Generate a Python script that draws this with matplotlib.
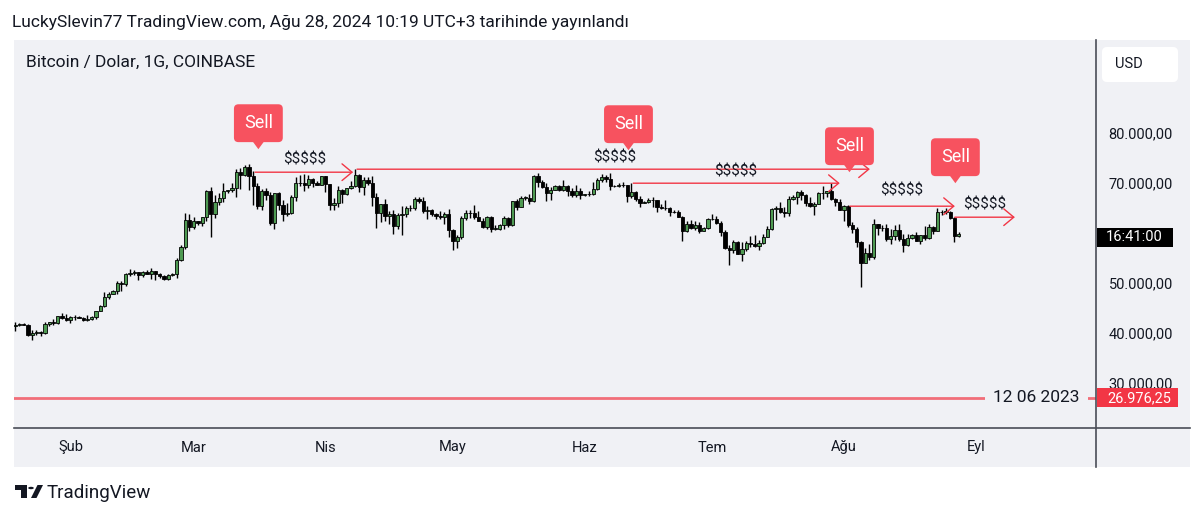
import matplotlib
matplotlib.use('Agg')

import numpy as np
import pandas as pd
import matplotlib.pyplot as plt
import matplotlib.dates as mdates
from matplotlib.patches import Rectangle, Polygon, FancyBboxPatch, Circle
from matplotlib.lines import Line2D

plt.rcParams['font.family'] = ['Roboto', 'DejaVu Sans']

BG = '#f0f1f5'
RED = '#f23645'
LABEL_RED = '#f7525f'
GREEN = '#4e9a52'
INK = '#131722'
SEP = '#4a4d57'

# daily BTC/USD candles, values in thousands of USD
dates = pd.date_range('2024-01-19', '2024-08-28', freq='D')

opens = [
    41.3, 41.6, 41.7, 41.6, 39.5, 39.9, 40.1, 40.0, 41.8, 42.1, 42.0, 43.3, 42.9,
    42.6, 43.1, 43.2, 43.0, 42.6, 42.7, 43.1, 44.3, 45.3, 47.1, 47.8, 48.3, 50.0, 49.7,
    51.8, 52.0, 52.1, 51.6, 52.1, 51.8, 52.3, 51.8, 51.3, 50.7, 51.6, 51.7, 54.5, 57.1, 62.5,
    61.2, 62.4, 62.0, 63.1, 68.3, 63.8, 66.1, 66.9, 68.3, 68.5, 69.0, 72.1, 71.5, 73.1, 71.4,
    69.4, 65.3, 68.4, 67.6, 62.0, 67.9, 65.5, 63.8, 64.0, 67.2, 70.0, 69.9, 69.5, 70.8, 69.9, 69.6,
    71.3, 69.7, 65.5, 65.9, 68.5, 67.8, 68.9, 69.4, 71.6, 69.1, 70.6, 70.0, 67.1, 63.9, 65.7,
    63.4, 63.8, 61.3, 63.5, 63.8, 64.9, 64.9, 66.8, 66.4, 64.3, 64.5, 63.8, 63.4, 63.1, 63.8,
    60.6, 58.3, 59.1, 62.9, 63.9, 64.0, 63.2, 62.3, 61.2, 63.1, 60.8, 60.8, 61.5, 62.9, 61.5,
    66.3, 65.2, 67.0, 67.0, 66.3, 71.4, 70.1, 69.1, 67.9, 68.5, 69.3, 68.5, 69.4, 68.3, 67.6, 68.3,
    67.5, 67.7, 67.7, 68.8, 70.5, 71.1, 70.8, 69.3, 69.3, 69.6, 69.5, 67.3, 68.2, 66.8, 66.0,
    66.2, 66.6, 66.5, 65.2, 65.0, 64.9, 64.1, 64.2, 63.2, 60.3, 61.8, 60.9, 61.6, 60.3, 60.9,
    62.7, 62.8, 62.0, 60.2, 57.0, 56.6, 58.2, 55.8, 56.7, 58.0, 57.7, 57.3, 57.9, 59.2, 60.8,
    64.7, 65.0, 64.1, 63.9, 66.7, 67.1, 68.2, 67.6, 65.9, 65.4, 65.8, 67.9, 68.0, 68.3, 66.8, 66.2,
    64.6, 65.3, 61.5, 60.7, 58.1, 54.0, 56.0, 55.1, 61.7, 60.9, 60.9, 58.7, 59.3, 60.6,
    58.7, 57.6, 58.9, 59.5, 58.4, 59.5, 59.0, 61.2, 60.4, 64.1, 64.2, 64.2, 62.9, 59.4,
]
highs = [
    42.2, 41.9, 41.9, 41.7, 40.5, 40.6, 40.3, 42.2, 42.2, 42.8, 43.3, 43.9, 43.7,
    43.3, 43.5, 43.4, 43.1, 43.5, 43.4, 44.4, 45.6, 48.2, 48.2, 48.6, 50.3, 50.4, 52.0,
    52.8, 52.6, 52.2, 52.4, 52.5, 52.9, 52.4, 52.0, 51.5, 51.7, 51.9, 54.9, 57.5, 64.0, 63.7,
    63.1, 62.4, 63.2, 68.5, 69.2, 67.6, 67.9, 70.0, 68.6, 70.0, 72.8, 73.0, 73.6, 73.8,
    72.4, 70.0, 68.8, 68.9, 68.1, 68.0, 68.2, 66.6, 65.9, 67.5, 71.1, 71.5, 71.7, 71.5, 70.9, 70.3, 71.4,
    71.3, 69.7, 66.9, 69.3, 68.7, 69.0, 70.3, 72.7, 71.7, 71.1, 71.2, 71.3, 67.9, 65.8,
    66.8, 64.3, 64.5, 64.0, 65.4, 65.4, 65.6, 67.2, 67.2, 67.1, 65.3, 64.8, 63.9, 64.3, 64.2, 64.7,
    60.8, 59.6, 63.3, 64.5, 64.6, 65.5, 64.4, 62.9, 63.4, 63.4, 61.5, 61.8, 63.4, 63.1,
    66.4, 66.7, 67.4, 67.4, 67.7, 71.5, 71.9, 70.6, 70.0, 69.2, 69.5, 69.5, 70.6, 69.6, 68.9, 69.5, 69.0,
    67.8, 68.4, 70.2, 71.0, 71.7, 71.6, 71.9, 69.6, 69.9, 70.2, 69.6, 70.0, 68.4, 67.3,
    66.4, 66.9, 67.2, 66.5, 65.7, 66.5, 65.1, 64.5, 64.5, 63.4, 62.4, 62.5, 62.3, 62.2, 61.2, 63.0,
    63.8, 63.3, 62.3, 60.5, 57.5, 58.5, 58.3, 58.2, 58.3, 59.4, 59.5, 58.5, 59.8, 61.3,
    64.9, 65.3, 66.1, 65.1, 67.4, 67.6, 68.4, 68.5, 67.8, 67.1, 66.1, 68.2, 69.4, 68.3, 70.0, 67.0, 66.8,
    65.6, 65.6, 62.2, 61.1, 58.3, 57.0, 57.7, 62.7, 61.8, 61.5, 61.8, 60.7, 61.6, 61.8,
    59.8, 59.8, 59.7, 60.2, 59.6, 61.4, 61.8, 61.4, 64.9, 64.5, 65.0, 64.4, 63.2, 60.2,
]
lows = [
    40.3, 41.4, 41.5, 39.4, 38.5, 39.5, 39.3, 39.8, 41.4, 41.6, 41.8, 42.7, 42.3,
    41.9, 42.6, 42.9, 42.3, 42.3, 42.6, 42.8, 44.3, 45.2, 46.8, 47.7, 47.7, 48.3, 49.3,
    51.3, 51.6, 50.6, 51.2, 51.7, 50.8, 50.6, 50.9, 50.5, 50.6, 51.3, 50.9, 54.4, 56.7, 60.4,
    60.8, 61.6, 61.3, 62.3, 59.2, 62.9, 65.6, 66.2, 67.9, 68.2, 67.2, 68.7, 71.4, 68.6,
    65.6, 64.8, 64.6, 66.6, 61.6, 60.8, 64.5, 62.3, 63.3, 63.8, 66.4, 69.4, 68.4, 68.9, 69.1, 69.5, 69.6,
    68.1, 64.5, 64.5, 65.1, 66.0, 67.5, 68.8, 69.1, 68.2, 67.5, 69.6, 65.3, 61.0, 62.2,
    62.3, 61.7, 59.8, 60.8, 59.6, 63.2, 64.3, 64.5, 65.9, 63.9, 62.8, 63.4, 62.8, 62.8, 61.8, 59.2,
    56.6, 56.9, 58.8, 62.6, 62.9, 62.8, 62.3, 60.9, 60.7, 60.2, 60.5, 60.6, 60.8, 61.2,
    61.3, 64.6, 65.1, 66.6, 65.8, 66.1, 69.2, 68.9, 66.3, 66.6, 68.5, 68.3, 68.3, 67.3, 67.1, 67.1, 66.7,
    67.4, 67.3, 67.6, 68.6, 70.2, 70.1, 68.5, 69.2, 69.1, 69.2, 66.1, 66.9, 66.3, 65.1,
    65.9, 66.0, 65.1, 64.1, 64.7, 64.5, 63.4, 63.9, 63.2, 58.4, 60.2, 60.7, 60.6, 60.0, 60.3, 60.7,
    62.5, 61.8, 59.4, 56.8, 53.5, 56.0, 55.7, 54.3, 56.3, 57.2, 57.1, 56.6, 57.8, 59.2,
    60.6, 62.5, 64.0, 63.2, 63.3, 66.5, 65.8, 66.6, 65.4, 65.1, 63.5, 65.7, 66.7, 67.1, 66.5, 65.3, 64.5,
    62.3, 61.2, 59.9, 57.2, 49.1, 54.0, 54.6, 54.7, 59.6, 60.3, 58.3, 57.7, 58.5, 58.4,
    56.1, 57.4, 58.8, 58.4, 57.8, 58.6, 58.8, 59.8, 60.4, 63.6, 63.8, 62.8, 58.1, 59.2,
]
closes = [
    41.6, 41.7, 41.6, 39.5, 39.9, 40.1, 40.0, 41.8, 42.1, 42.0, 43.3, 42.9, 42.6,
    43.1, 43.2, 43.0, 42.6, 42.7, 43.1, 44.3, 45.3, 47.1, 47.8, 48.3, 50.0, 49.7, 51.8,
    52.0, 52.1, 51.6, 52.1, 51.8, 52.3, 51.8, 51.3, 50.7, 51.6, 51.7, 54.5, 57.1, 62.5, 61.2,
    62.4, 62.0, 63.1, 68.3, 63.8, 66.1, 66.9, 68.3, 68.5, 69.0, 72.1, 71.5, 73.1, 71.4,
    69.4, 65.3, 68.4, 67.6, 62.0, 67.9, 65.5, 63.8, 64.0, 67.2, 70.0, 69.9, 69.5, 70.8, 69.9, 69.6, 71.3,
    69.7, 65.5, 65.9, 68.5, 67.8, 68.9, 69.4, 71.6, 69.1, 70.6, 70.0, 67.1, 63.9, 65.7,
    63.4, 63.8, 61.3, 63.5, 63.8, 64.9, 64.9, 66.8, 66.4, 64.3, 64.5, 63.8, 63.4, 63.1, 63.8, 60.6,
    58.3, 59.1, 62.9, 63.9, 64.0, 63.2, 62.3, 61.2, 63.1, 60.8, 60.8, 61.5, 62.9, 61.5,
    66.3, 65.2, 67.0, 67.0, 66.3, 71.4, 70.1, 69.1, 67.9, 68.5, 69.3, 68.5, 69.4, 68.3, 67.6, 68.3, 67.5,
    67.7, 67.7, 68.8, 70.5, 71.1, 70.8, 69.3, 69.3, 69.6, 69.5, 67.3, 68.2, 66.8, 66.0,
    66.2, 66.6, 66.5, 65.2, 65.0, 64.9, 64.1, 64.2, 63.2, 60.3, 61.8, 60.9, 61.6, 60.3, 60.9, 62.7,
    62.8, 62.0, 60.2, 57.0, 56.6, 58.2, 55.8, 56.7, 58.0, 57.7, 57.3, 57.9, 59.2, 60.8,
    64.7, 65.0, 64.1, 63.9, 66.7, 67.1, 68.2, 67.6, 65.9, 65.4, 65.8, 67.9, 68.0, 68.3, 66.8, 66.2, 64.6,
    65.3, 61.5, 60.7, 58.1, 54.0, 56.0, 55.1, 61.7, 60.9, 60.9, 58.7, 59.3, 60.6, 58.7,
    57.6, 58.9, 59.5, 58.4, 59.5, 59.0, 61.2, 60.4, 64.1, 64.2, 64.2, 62.9, 59.4, 59.8,
]

month_starts = ['2024-02-01', '2024-03-01', '2024-04-01', '2024-05-01',
                '2024-06-01', '2024-07-01', '2024-08-01', '2024-09-01']
month_labels = ['Şub', 'Mar', 'Nis', 'May', 'Haz', 'Tem', 'Ağu', 'Eyl']
price_ticks = [30, 40, 50, 60, 70, 80]
price_labels = ['30.000,00', '40.000,00', '50.000,00', '60.000,00', '70.000,00', '80.000,00']

support_price = 26.97625
support_text = '12 06 2023'

# drawn arrows: start, end, price level, label position, label price
arrow_starts = ['2024-03-15 10:00', '2024-04-08 10:00', '2024-06-12 10:00', '2024-08-02 10:00', '2024-08-27 02:00']
arrow_ends = ['2024-04-07 12:00', '2024-08-07 02:00', '2024-07-31 00:00', '2024-08-27 02:00', '2024-09-10 05:00']
arrow_prices = [72.1, 72.7, 69.9, 65.3, 63.1]
dollar_dates = ['2024-03-27 00:00', '2024-06-08 00:00', '2024-07-06 14:00', '2024-08-14 14:00', '2024-09-03 05:00']
dollar_prices = [74.6, 75.1, 72.3, 68.5, 65.7]

# "Sell" callouts: tip of the pointer
sell_dates = ['2024-03-16 05:00', '2024-06-11 07:00', '2024-08-02 07:00', '2024-08-27 05:00']
sell_prices = [76.7, 76.5, 72.1, 69.9]

###############################################################################
W, H = 1200, 518
fig = plt.figure(figsize=(W / 100, H / 100), dpi=100)
fig.patch.set_facecolor('white')


def fx(px):
    return px / W


def fy(py):
    return 1 - py / H


def dnum(s):
    return mdates.date2num(np.datetime64(s))


fig.patches.append(Rectangle((fx(14), fy(467)), fx(1190) - fx(14), fy(40) - fy(467),
                             transform=fig.transFigure, fc=BG, ec='none', zorder=-5))

ax = fig.add_axes([fx(14), fy(428), fx(1096) - fx(14), fy(40) - fy(428)])
ax.set_facecolor('none')
for s in ax.spines.values():
    s.set_visible(False)

x = mdates.date2num(dates.values)
o = np.array(opens)
h = np.array(highs)
l = np.array(lows)
c = np.array(closes)
up = c >= o
body_lo = np.minimum(o, c)
body_h = np.maximum(np.abs(c - o), 0.1)

ax.vlines(x, l, h, color='black', lw=1.0, zorder=2)
ax.bar(x[up], body_h[up], bottom=body_lo[up], width=0.74, color=GREEN,
       edgecolor='black', lw=0.6, zorder=3)
ax.bar(x[~up], body_h[~up], bottom=body_lo[~up], width=0.74, color='black',
       edgecolor='black', lw=0.6, zorder=3)

feb1 = dnum('2024-02-01')
ax.set_xlim(feb1 - 13.29, feb1 + 241.3)
ax.set_ylim(20.94, 98.54)

ax.set_xticks([dnum(m) for m in month_starts])
ax.set_xticklabels(month_labels)
ax.yaxis.tick_right()
ax.set_yticks(price_ticks)
ax.set_yticklabels(price_labels)
ax.tick_params(axis='x', length=0, pad=9, labelsize=10.5, labelcolor=INK)
ax.tick_params(axis='y', length=0, pad=9, labelsize=10.5, labelcolor=INK)

# support line
ax.axhline(support_price, color=RED, lw=2, alpha=0.7, zorder=2)
ax.text((1036.5 - 14) / 1082, support_price, support_text, transform=ax.get_yaxis_transform(),
        ha='center', va='center', fontsize=12.5, color=INK, zorder=4,
        bbox=dict(boxstyle='square,pad=0.45', fc=BG, ec='none'))

# arrows and labels
for s, e, p in zip(arrow_starts, arrow_ends, arrow_prices):
    ax.annotate('', xy=(dnum(e), p), xytext=(dnum(s), p),
                arrowprops=dict(arrowstyle='->,head_length=0.9,head_width=0.75', color=RED,
                                lw=1, shrinkA=0, shrinkB=0, mutation_scale=8),
                annotation_clip=False, zorder=4)
for d, p in zip(dollar_dates, dollar_prices):
    ax.text(dnum(d), p, '$$$$$', ha='center', va='center', fontsize=11, color=INK, zorder=4)

for d, p in zip(sell_dates, sell_prices):
    dn = dnum(d)
    ax.add_patch(Polygon([(dn, p), (dn - 1.9, p + 2.2), (dn + 1.9, p + 2.2)],
                         closed=True, fc=LABEL_RED, ec='none', zorder=6))
    ax.annotate('Sell', xy=(dn, p), xytext=(0, 26), textcoords='offset pixels',
                ha='center', va='center', fontsize=13, color='white', zorder=7,
                bbox=dict(boxstyle='round,pad=0.55,rounding_size=0.25', fc=LABEL_RED, ec='none'))

# price scale labels
yt = ax.get_yaxis_transform()
ax.add_patch(Rectangle((1 + 1 / 1082, 59.14 - 1.9), 76 / 1082, 3.8, transform=yt,
                       fc='black', ec='none', clip_on=False, zorder=8))
ax.text(1 + 10 / 1082, 59.14, '16:41:00', transform=yt, ha='left', va='center',
        fontsize=10.5, color='white', zorder=9, clip_on=False)
ax.add_patch(Rectangle((1 + 1 / 1082, support_price - 1.9), 81 / 1082, 3.8, transform=yt,
                       fc=RED, ec='none', clip_on=False, zorder=8))
ax.text(1 + 11 / 1082, support_price, '26.976,25', transform=yt, ha='left', va='center',
        fontsize=10.5, color='white', zorder=9, clip_on=False)

# separators
fig.add_artist(Line2D([fx(1096), fx(1096)], [fy(40), fy(467)], transform=fig.transFigure,
                      color=SEP, lw=1.2, zorder=10))
fig.add_artist(Line2D([fx(14), fx(1190)], [fy(428), fy(428)], transform=fig.transFigure,
                      color=SEP, lw=1.2, zorder=10))

# USD box
fig.patches.append(FancyBboxPatch((fx(1102), fy(82)), fx(1178) - fx(1102), fy(47) - fy(82),
                                  boxstyle='round,pad=0,rounding_size=%f' % fx(5),
                                  mutation_aspect=W / H, transform=fig.transFigure,
                                  fc='white', ec='none', zorder=11))
fig.text(fx(1115), fy(64), 'USD', fontsize=10.5, color=INK, va='center', zorder=12)

# header texts
fig.text(fx(12), fy(22), 'LuckySlevin77 TradingView.com, Ağu 28, 2024 10:19 UTC+3 tarihinde yayınlandı',
         fontsize=12.5, color=INK, va='center')
fig.text(fx(26), fy(62), 'Bitcoin / Dolar, 1G, COINBASE', fontsize=12.5, color=INK, va='center')

# TradingView logo
logo_t = [(15, 485), (27, 485), (27, 498), (21, 498), (21, 490), (15, 490)]
logo_v = [(31, 498), (36.5, 498), (43, 485), (37.5, 485)]
for pts in (logo_t, logo_v):
    fig.patches.append(Polygon([(fx(a), fy(b)) for a, b in pts], closed=True,
                               transform=fig.transFigure, fc=INK, ec='none'))
fig.patches.append(Circle((fx(31), fy(488)), fx(2.8), transform=fig.transFigure, fc=INK, ec='none'))
fig.text(fx(47), fy(493), 'TradingView', fontsize=13.5, color=INK, va='center')

fig.savefig('out.png', dpi=100)
